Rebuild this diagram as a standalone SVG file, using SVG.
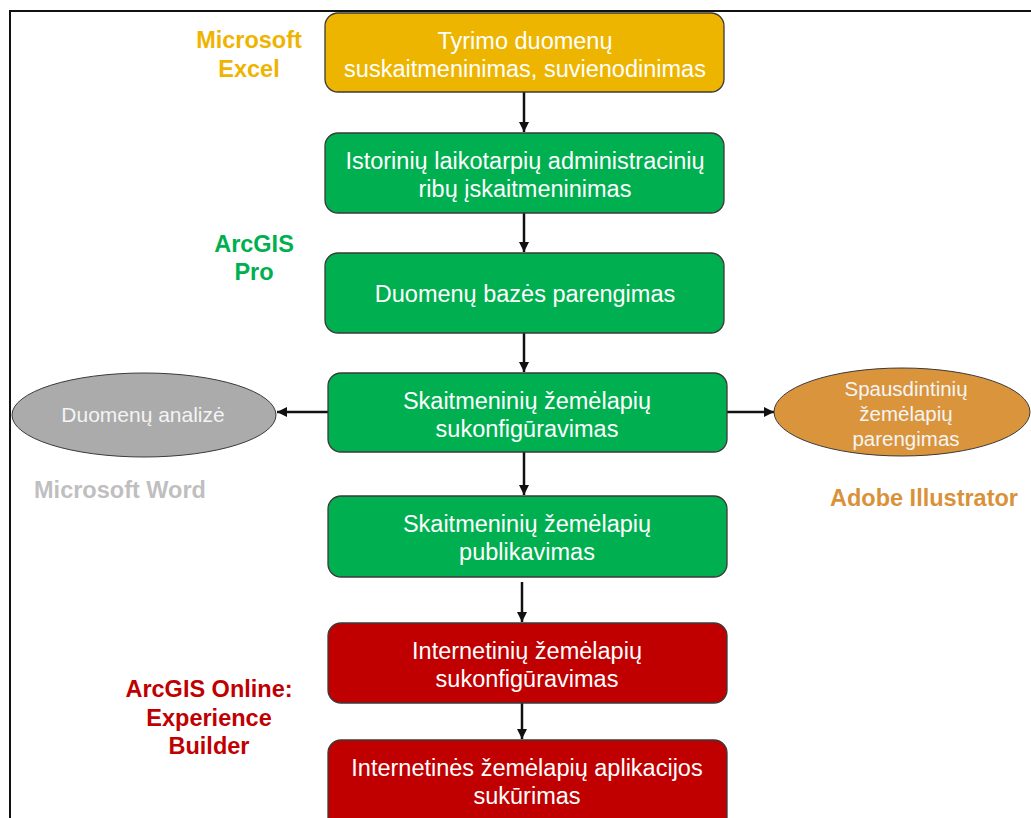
<svg xmlns="http://www.w3.org/2000/svg" width="1031" height="818" viewBox="0 0 1031 818">
<style>
.box{stroke:#3a3a3a;stroke-width:1.3}
.gold{fill:#EDB500}
.green{fill:#00B050}
.red{fill:#C00000}
.bt{font-family:"Liberation Sans",Arial,sans-serif;font-size:23.5px;fill:#FFFFFF;text-anchor:middle}
.et{font-family:"Liberation Sans",Arial,sans-serif;fill:#F4F4F4;text-anchor:middle}
.lab{font-family:"Liberation Sans",Arial,sans-serif;font-size:23.5px;font-weight:bold;text-anchor:middle}
.con{stroke:#111111;stroke-width:2.5;fill:none;marker-end:url(#ah)}
</style>
<defs>
<marker id="ah" viewBox="0 0 10 10" refX="10" refY="5" markerWidth="4" markerHeight="4" markerUnits="strokeWidth" orient="auto">
<path d="M0,0 L10,5 L0,10 z" fill="#111111"/>
</marker>
</defs>
<rect width="1031" height="818" fill="#FFFFFF"/>
<path d="M10,818 L10,11 L1031,11" fill="none" stroke="#111111" stroke-width="2"/>

<g id="connectors">
<line class="con" x1="524" y1="92" x2="524" y2="132"/>
<line class="con" x1="524" y1="213" x2="524" y2="252"/>
<line class="con" x1="524" y1="333" x2="524" y2="372"/>
<line class="con" x1="524" y1="452" x2="524" y2="495"/>
<line class="con" x1="522" y1="582" x2="522" y2="622"/>
<line class="con" x1="522" y1="703" x2="522" y2="739"/>
<line class="con" x1="328" y1="412" x2="277" y2="412"/>
<line class="con" x1="727" y1="412" x2="774" y2="412"/>
</g>

<g id="n1">
<rect class="box gold" x="325" y="13" width="399" height="79" rx="13"/>
<text class="bt" x="525" y="49">Tyrimo duomenų</text>
<text class="bt" x="525" y="77">suskaitmeninimas, suvienodinimas</text>
</g>
<g id="n2">
<rect class="box green" x="325" y="133" width="399" height="80" rx="13"/>
<text class="bt" x="525" y="169">Istorinių laikotarpių administracinių</text>
<text class="bt" x="525" y="197">ribų įskaitmeninimas</text>
</g>
<g id="n3">
<rect class="box green" x="325" y="253" width="399" height="80" rx="13"/>
<text class="bt" x="525" y="302">Duomenų bazės parengimas</text>
</g>
<g id="n4">
<rect class="box green" x="328" y="373" width="399" height="79" rx="13"/>
<text class="bt" x="527" y="409">Skaitmeninių žemėlapių</text>
<text class="bt" x="527" y="437">sukonfigūravimas</text>
</g>
<g id="n5">
<rect class="box green" x="328" y="496" width="399" height="81" rx="13"/>
<text class="bt" x="527" y="532">Skaitmeninių žemėlapių</text>
<text class="bt" x="527" y="560">publikavimas</text>
</g>
<g id="n6">
<rect class="box red" x="328" y="623" width="399" height="80" rx="13"/>
<text class="bt" x="527" y="659">Internetinių žemėlapių</text>
<text class="bt" x="527" y="687">sukonfigūravimas</text>
</g>
<g id="n7">
<rect class="box red" x="328" y="740" width="399" height="90" rx="13"/>
<text class="bt" x="527" y="776">Internetinės žemėlapių aplikacijos</text>
<text class="bt" x="527" y="804">sukūrimas</text>
</g>
<g id="n8">
<ellipse cx="144" cy="415" rx="132" ry="42" fill="#ABABAB" stroke="#3a3a3a" stroke-width="1"/>
<text class="et" x="143" y="422" font-size="21">Duomenų analizė</text>
</g>
<g id="n9">
<ellipse cx="902" cy="412" rx="128" ry="44" fill="#DA953C" stroke="#3a3a3a" stroke-width="1"/>
<text class="et" x="906" y="396" font-size="20.5">Spausdintinių</text>
<text class="et" x="906" y="421" font-size="20.5">žemėlapių</text>
<text class="et" x="906" y="446" font-size="20.5">parengimas</text>
</g>

<g id="labels">
<text class="lab" x="249" y="48" fill="#EEB400">Microsoft</text>
<text class="lab" x="249" y="77" fill="#EEB400">Excel</text>
<text class="lab" x="254" y="252" fill="#00B050">ArcGIS</text>
<text class="lab" x="254" y="280" fill="#00B050">Pro</text>
<text class="lab" x="120" y="498" fill="#BFBFBF">Microsoft Word</text>
<text class="lab" x="924" y="506" fill="#D9923A">Adobe Illustrator</text>
<text class="lab" x="209" y="697" fill="#C00000">ArcGIS Online:</text>
<text class="lab" x="209" y="726" fill="#C00000">Experience</text>
<text class="lab" x="209" y="754" fill="#C00000">Builder</text>
</g>
</svg>
